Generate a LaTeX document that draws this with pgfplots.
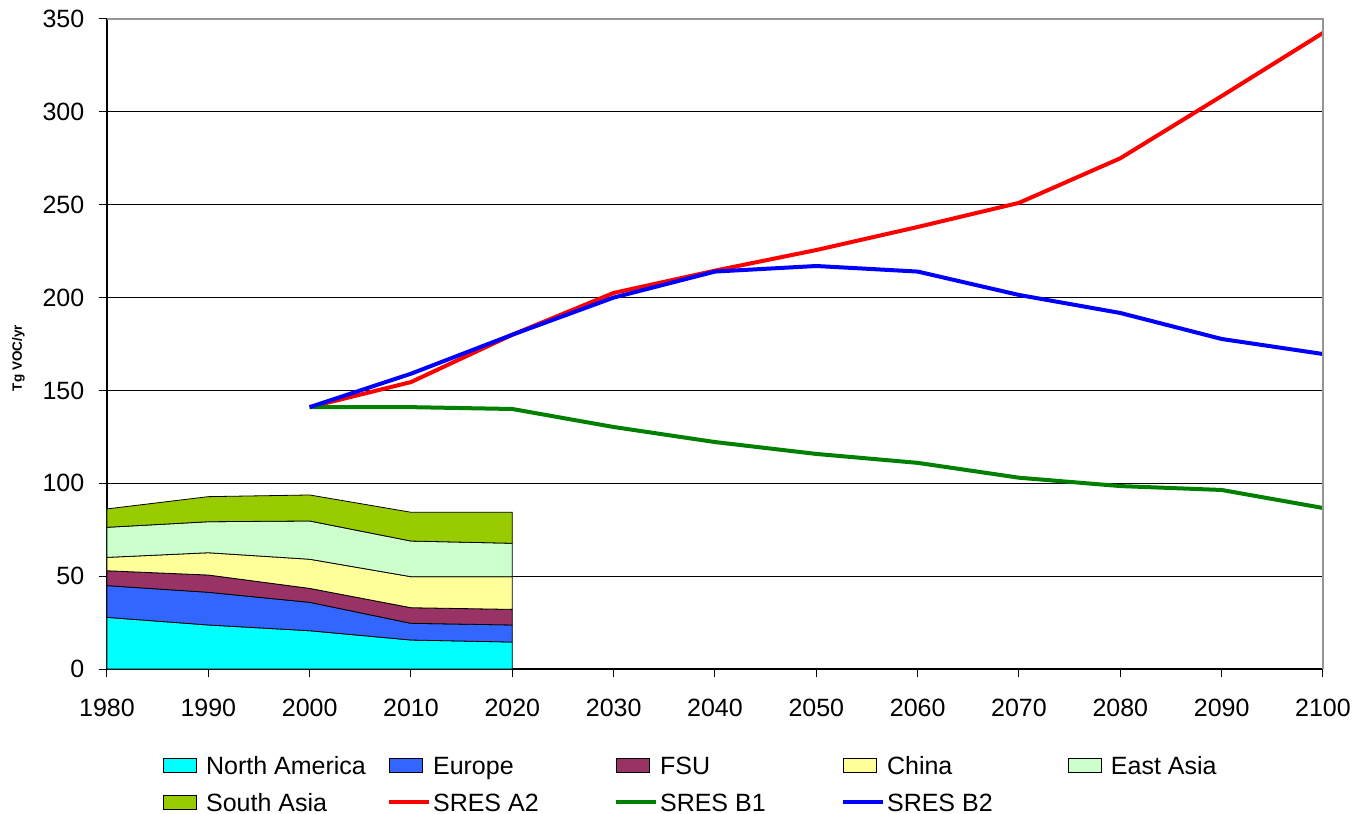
\documentclass[border=0pt]{standalone}
\usepackage{pgfplots}
\pgfplotsset{compat=1.18}
\usepackage{fontspec}
\setmainfont{Liberation Sans}
\definecolor{na}{RGB}{0,255,255}
\definecolor{eu}{RGB}{51,102,255}
\definecolor{fsu}{RGB}{153,51,102}
\definecolor{china}{RGB}{255,255,153}
\definecolor{ea}{RGB}{204,255,204}
\definecolor{sa}{RGB}{153,204,0}
\definecolor{b1}{RGB}{0,128,0}
\definecolor{topgray}{RGB}{150,150,150}
\newcommand{\legtxt}[1]{\makebox[181bp][l]{#1}}
\begin{document}
\begin{tikzpicture}
\begin{axis}[
  scale only axis, width=1216bp, height=650bp,
  xmin=1980, xmax=2100, ymin=0, ymax=350,
  xtick={1980,1990,...,2100}, ytick={0,50,...,300},
  extra y ticks={350}, extra y tick style={ymajorgrids=false},
  axis x line*=bottom, axis y line*=left,
  axis line style={-, black, line width=1.2bp},
  tick align=outside, major tick length=8bp,
  tick style={black, line width=1bp},
  ymajorgrids, grid style={black, line width=1bp},
  /pgf/number format/1000 sep={},
  /pgf/number format/assume math mode=true,
  scaled ticks=false,
  tick label style={font=\fontsize{25bp}{30bp}\selectfont, inner sep=0pt},
  xticklabel style={anchor=north, yshift=-22bp},
  yticklabel style={anchor=east, xshift=-14.5bp},
  legend columns=5,
  legend style={draw=none, fill=none, inner sep=0pt, row sep=9bp, column sep=0pt,
    at={(axis description cs:0,0)}, anchor=north west, xshift=56bp, yshift=-82bp,
    font=\fontsize{25bp}{30bp}\selectfont,
    nodes={inner sep=0pt, text height=23bp, text depth=5bp}},
  legend cell align=left,
  after end axis/.code={\draw[topgray, line width=1.2bp] (rel axis cs:0,1) -- (rel axis cs:1,1) -- (rel axis cs:1,0);},
]
\pgfplotsset{
  areaimg/.style={legend image code/.code={\draw[##1, line width=1bp] (0bp,-7bp) rectangle (33bp,7bp); \path (42bp,0bp);}},
  lineimg/.style={legend image code/.code={\draw[##1] (0bp,0bp) -- (40bp,0bp); \path (42bp,0bp);}},
}
\addplot[stack plots=y, fill=na, draw=black, line width=0.8bp, areaimg] coordinates {(1980,27.8)(1990,23.7)(2000,20.6)(2010,15.6)(2020,14.5)} \closedcycle;
\addlegendentry{\legtxt{North America}}
\addplot[stack plots=y, fill=eu, draw=black, line width=0.8bp, areaimg] coordinates {(1980,17.1)(1990,17.6)(2000,15.3)(2010,9.0)(2020,9.2)} \closedcycle;
\addlegendentry{\legtxt{Europe}}
\addplot[stack plots=y, fill=fsu, draw=black, line width=0.8bp, areaimg] coordinates {(1980,8.0)(1990,9.3)(2000,7.5)(2010,8.4)(2020,8.4)} \closedcycle;
\addlegendentry{\legtxt{FSU}}
\addplot[stack plots=y, fill=china, draw=black, line width=0.8bp, areaimg] coordinates {(1980,7.2)(1990,12.0)(2000,15.7)(2010,16.7)(2020,17.6)} \closedcycle;
\addlegendentry{\legtxt{China}}
\addplot[stack plots=y, fill=ea, draw=black, line width=0.8bp, areaimg] coordinates {(1980,16.2)(1990,16.7)(2000,20.6)(2010,19.2)(2020,18.0)} \closedcycle;
\addlegendentry{\legtxt{East Asia}}
\addplot[stack plots=y, fill=sa, draw=black, line width=0.8bp, areaimg] coordinates {(1980,9.9)(1990,13.5)(2000,14.0)(2010,15.5)(2020,16.7)} \closedcycle;
\addlegendentry{\legtxt{South Asia}}
\addplot[stack plots=false, red, line width=4bp, lineimg] coordinates {(2000,141)(2010,154.5)(2020,180)(2030,202.5)(2040,214.5)(2050,225.6)(2060,238)(2070,251)(2080,275)(2090,308.5)(2100,342.5)};
\addlegendentry{\legtxt{SRES A2}}
\addplot[stack plots=false, b1, line width=4bp, lineimg] coordinates {(2000,141)(2010,141)(2020,140)(2030,130.3)(2040,122.2)(2050,115.8)(2060,111)(2070,103)(2080,98.5)(2090,96.4)(2100,86.7)};
\addlegendentry{\legtxt{SRES B1}}
\addplot[stack plots=false, blue, line width=4bp, lineimg] coordinates {(2000,141)(2010,159)(2020,180)(2030,200)(2040,214)(2050,217)(2060,214)(2070,201.4)(2080,191.7)(2090,177.7)(2100,169.6)};
\addlegendentry{\legtxt{SRES B2}}
\end{axis}
\node[rotate=90, anchor=center, inner sep=0pt, font=\bfseries\fontsize{13.5bp}{16bp}\selectfont] at (-88.5bp,311bp) {Tg VOC/yr};
\pgfresetboundingbox
\useasboundingbox (-107bp,-145bp) rectangle (1246bp,669bp);
\end{tikzpicture}
\end{document}
